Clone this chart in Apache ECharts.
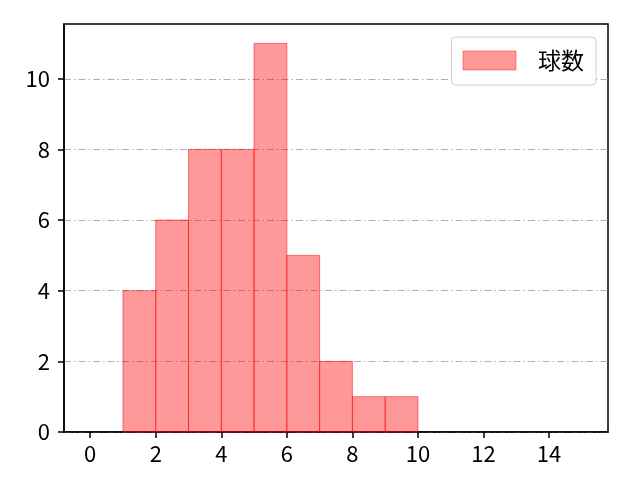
<!DOCTYPE html>
<html><head><meta charset="utf-8">
<script src="https://cdn.jsdelivr.net/npm/echarts@6/dist/echarts.min.js"></script>
<style>html,body{margin:0;padding:0;background:#fff}#c{width:640px;height:480px}</style>
</head><body><div id="c"></div>
<script>
const binStarts = [1, 2, 3, 4, 5, 6, 7, 8, 9];
const binWidth = 1;
const counts = [4, 6, 8, 8, 11, 5, 2, 1, 1];
const xTicks = [0, 2, 4, 6, 8, 10, 12, 14];
const yTicks = [0, 2, 4, 6, 8, 10];
const seriesName = '球数';

const data = binStarts.map((s, i) => [s, s + binWidth, counts[i]]);
const font = '"Noto Sans CJK JP", "DejaVu Sans", sans-serif';
const chart = echarts.init(document.getElementById('c'), null, {renderer: 'canvas'});
chart.setOption({
  animation: false,
  backgroundColor: '#fff',
  grid: {left: 64, right: 32, top: 24, bottom: 48, show: true, borderColor: '#000', borderWidth: 1.5, backgroundColor: 'transparent'},
  xAxis: {
    type: 'value', min: -0.8, max: 15.8,
    axisLine: {show: true, onZero: false, lineStyle: {color: '#000', width: 1.5}},
    axisTick: {show: true, customValues: xTicks, length: 6, lineStyle: {color: '#000', width: 1.5}},
    axisLabel: {customValues: xTicks, color: '#000', fontSize: 22, fontFamily: font, margin: 11},
    splitLine: {show: false}
  },
  yAxis: {
    type: 'value', min: 0, max: 11.55,
    axisLine: {show: true, onZero: false, lineStyle: {color: '#000', width: 1.5}},
    axisTick: {show: true, customValues: yTicks, length: 6, lineStyle: {color: '#000', width: 1.5}},
    axisLabel: {customValues: yTicks, color: '#000', fontSize: 22, fontFamily: font, margin: 14},
    splitLine: {show: true, lineStyle: {color: '#b0b0b0', width: 1, type: [7, 3, 1.5, 3]}}
  },
  legend: {
    show: true, right: 44, top: 37, orient: 'vertical',
    padding: [12, 12, 13, 11],
    backgroundColor: '#fff', borderColor: '#d0d0d0', borderWidth: 1, borderRadius: 4,
    itemWidth: 53, itemHeight: 19, itemGap: 0,
    textStyle: {fontSize: 23, lineHeight: 20, fontFamily: font, color: '#000', padding: [0, 0, 0, 17]},
    data: [{name: seriesName, icon: 'rect', itemStyle: {color: 'rgba(255,0,0,0.4)', borderColor: 'rgba(255,0,0,0.4)', borderWidth: 1}}]
  },
  series: [{
    type: 'custom', name: seriesName,
    itemStyle: {color: 'rgba(255,0,0,0.4)'},
    encode: {x: [0, 1], y: 2},
    renderItem: function (params, api) {
      const p0 = api.coord([api.value(0), 0]);
      const p1 = api.coord([api.value(1), api.value(2)]);
      return {
        type: 'rect',
        shape: {x: p0[0], y: p1[1], width: p1[0] - p0[0], height: p0[1] - p1[1]},
        style: {fill: 'rgba(255,0,0,0.4)', stroke: 'rgba(255,0,0,0.5)', lineWidth: 1}
      };
    },
    data: data
  }]
});
</script></body></html>
